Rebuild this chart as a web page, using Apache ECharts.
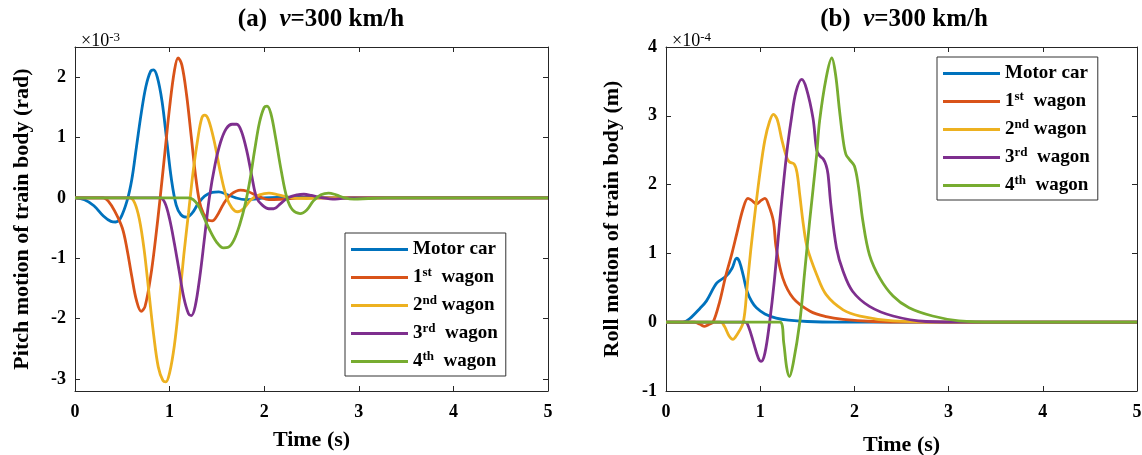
<!DOCTYPE html>
<html>
<head>
<meta charset="utf-8">
<script src="https://cdn.jsdelivr.net/npm/echarts@6/dist/echarts.min.js"></script>
<style>
html,body{margin:0;padding:0;background:#fff;}
#chart{width:1142px;height:455px;}
</style>
</head>
<body>
<div id="chart"></div>
<script>
// ---------- DATA ----------
const seriesNames = ['Motor car', '1st wagon', '2nd wagon', '3rd wagon', '4th wagon'];
const xTicks = [0, 1, 2, 3, 4, 5];
const pitchTicks = [-3, -2, -1, 0, 1, 2];
const rollTicks = [-1, 0, 1, 2, 3, 4];

// Pitch motion (x 1e-3 rad) : [time s, value]
const pitchMotor = [[0,0],[0.1,-0.03],[0.2,-0.13],[0.3,-0.3],[0.38,-0.39],[0.43,-0.4],[0.48,-0.34],[0.55,-0.05],[0.6,0.3],[0.65,0.85],[0.7,1.4],[0.75,1.85],[0.8,2.1],[0.83,2.12],[0.87,2.0],[0.92,1.6],[0.97,0.95],[1.02,0.3],[1.07,-0.12],[1.12,-0.28],[1.18,-0.32],[1.24,-0.25],[1.3,-0.1],[1.37,0.03],[1.45,0.09],[1.52,0.1],[1.6,0.06],[1.7,0],[1.8,-0.03],[1.9,-0.02],[2.0,0],[2.3,0.01],[3,0],[5,0]];
const pitch1st = [[0,0],[0.3,0],[0.35,-0.05],[0.42,-0.22],[0.5,-0.5],[0.55,-0.85],[0.6,-1.3],[0.65,-1.7],[0.7,-1.88],[0.74,-1.8],[0.8,-1.3],[0.85,-0.7],[0.9,0.0],[0.95,0.75],[1.0,1.5],[1.05,2.1],[1.09,2.32],[1.13,2.2],[1.18,1.7],[1.23,1.0],[1.28,0.3],[1.33,-0.15],[1.4,-0.36],[1.45,-0.38],[1.5,-0.3],[1.57,-0.1],[1.65,0.06],[1.75,0.13],[1.82,0.11],[1.95,0.02],[2.05,-0.03],[2.2,-0.02],[2.4,0],[5,0]];
const pitch2nd = [[0,0],[0.58,0],[0.63,-0.08],[0.68,-0.35],[0.73,-0.85],[0.78,-1.55],[0.83,-2.25],[0.88,-2.8],[0.93,-3.03],[0.96,-3.05],[1.0,-2.9],[1.05,-2.45],[1.1,-1.75],[1.15,-0.95],[1.2,-0.25],[1.25,0.45],[1.3,1.0],[1.34,1.32],[1.37,1.37],[1.41,1.3],[1.47,0.95],[1.54,0.4],[1.6,0.02],[1.66,-0.17],[1.72,-0.23],[1.78,-0.18],[1.86,-0.03],[1.95,0.05],[2.05,0.08],[2.15,0.05],[2.3,0.0],[2.45,-0.01],[2.7,0],[5,0]];
const pitch3rd = [[0,0],[0.9,0],[0.95,-0.08],[1.0,-0.35],[1.05,-0.75],[1.1,-1.2],[1.15,-1.65],[1.2,-1.92],[1.23,-1.95],[1.27,-1.8],[1.32,-1.3],[1.37,-0.65],[1.42,0.0],[1.48,0.55],[1.54,0.93],[1.6,1.15],[1.66,1.22],[1.71,1.22],[1.76,1.1],[1.82,0.75],[1.87,0.35],[1.92,0.0],[1.98,-0.12],[2.05,-0.18],[2.1,-0.18],[2.17,-0.1],[2.25,0.0],[2.35,0.05],[2.42,0.06],[2.5,0.04],[2.62,0],[2.75,-0.02],[2.9,0],[5,0]];
const pitch4th = [[0,0],[1.2,0],[1.25,-0.03],[1.3,-0.12],[1.35,-0.28],[1.42,-0.52],[1.5,-0.74],[1.57,-0.83],[1.62,-0.82],[1.68,-0.7],[1.74,-0.45],[1.8,-0.1],[1.85,0.3],[1.9,0.8],[1.95,1.25],[2.0,1.5],[2.03,1.52],[2.07,1.4],[2.12,1.0],[2.18,0.45],[2.24,0.0],[2.3,-0.2],[2.38,-0.26],[2.45,-0.2],[2.52,-0.05],[2.6,0.05],[2.68,0.08],[2.76,0.05],[2.85,0.0],[2.95,-0.02],[3.1,-0.01],[3.3,0],[5,0]];

// Roll motion (x 1e-4 m) : [time s, value]
const rollMotor = [[0,0],[0.18,0],[0.25,0.05],[0.36,0.2],[0.43,0.31],[0.54,0.57],[0.64,0.67],[0.7,0.78],[0.75,0.93],[0.78,0.88],[0.82,0.68],[0.86,0.45],[0.91,0.3],[0.96,0.21],[1.05,0.12],[1.17,0.06],[1.3,0.03],[1.5,0.01],[1.8,0],[5,0]];
const roll1st = [[0,0],[0.3,0],[0.36,-0.03],[0.41,-0.06],[0.46,-0.03],[0.5,0],[0.57,0.3],[0.63,0.65],[0.7,1.0],[0.75,1.28],[0.82,1.66],[0.87,1.8],[0.91,1.77],[0.96,1.72],[1.01,1.77],[1.05,1.8],[1.09,1.7],[1.14,1.47],[1.17,1.08],[1.24,0.64],[1.35,0.35],[1.53,0.16],[1.7,0.08],[1.88,0.04],[2.2,0.01],[2.6,0],[5,0]];
const roll2nd = [[0,0],[0.58,0],[0.62,-0.06],[0.67,-0.2],[0.71,-0.25],[0.75,-0.19],[0.82,0],[0.86,0.5],[0.9,1.05],[0.95,1.65],[1.0,2.2],[1.05,2.65],[1.1,2.92],[1.14,3.02],[1.18,2.95],[1.23,2.65],[1.28,2.4],[1.31,2.33],[1.36,2.3],[1.39,2.18],[1.42,1.85],[1.46,1.4],[1.5,1.08],[1.6,0.69],[1.7,0.4],[1.88,0.18],[2.06,0.09],[2.41,0.02],[3,0],[5,0]];
const roll3rd = [[0,0],[0.84,0],[0.88,-0.08],[0.93,-0.3],[0.98,-0.52],[1.01,-0.57],[1.05,-0.45],[1.1,0],[1.15,0.6],[1.21,1.5],[1.28,2.44],[1.33,2.95],[1.38,3.35],[1.44,3.53],[1.49,3.4],[1.56,2.97],[1.6,2.5],[1.63,2.42],[1.67,2.37],[1.7,2.28],[1.72,2.15],[1.75,1.71],[1.81,1.08],[1.88,0.74],[1.98,0.45],[2.16,0.23],[2.41,0.09],[2.76,0.01],[3.2,0],[5,0]];
const roll4th = [[0,0],[1.21,0],[1.25,-0.3],[1.28,-0.65],[1.31,-0.79],[1.35,-0.6],[1.42,0],[1.47,0.7],[1.525,1.47],[1.6,2.44],[1.63,2.92],[1.7,3.55],[1.76,3.84],[1.8,3.6],[1.84,3.1],[1.88,2.65],[1.91,2.44],[1.95,2.36],[2.0,2.27],[2.04,2.0],[2.09,1.47],[2.16,0.98],[2.27,0.64],[2.41,0.38],[2.58,0.21],[2.83,0.09],[3.11,0.02],[3.5,0],[5,0]];

// ---------- CHART ----------
const colors = ['#0072BD', '#D95319', '#EDB120', '#7E2F8E', '#77AC30'];
const FONT = '"Liberation Serif", "Times New Roman", serif';
const pitchData = [pitchMotor, pitch1st, pitch2nd, pitch3rd, pitch4th];
const rollData = [rollMotor, roll1st, roll2nd, roll3rd, roll4th];

const chart = echarts.init(document.getElementById('chart'), null, {renderer: 'canvas'});

const axisLineStyle = {color: '#262626', width: 1};
function xAxisDef(gridIndex, nameGap) {
  return {
    type: 'value', gridIndex, min: 0, max: 5,
    axisLine: {show: true, onZero: false, lineStyle: axisLineStyle},
    axisTick: {show: true, inside: true, length: 5, lineStyle: axisLineStyle, customValues: xTicks},
    axisLabel: {show: true, customValues: xTicks, color: '#000', fontFamily: FONT, fontWeight: 'bold', fontSize: 18, margin: 12},
    splitLine: {show: false},
    name: 'Time (s)', nameLocation: 'middle', nameGap: nameGap,
    nameTextStyle: {color: '#000', fontFamily: FONT, fontWeight: 'bold', fontSize: 22}
  };
}
function xAxisTop(gridIndex) {
  return {
    type: 'value', gridIndex, min: 0, max: 5, position: 'top',
    axisLine: {show: true, onZero: false, lineStyle: axisLineStyle},
    axisTick: {show: true, inside: true, length: 5, lineStyle: axisLineStyle, customValues: xTicks},
    axisLabel: {show: false}, splitLine: {show: false}
  };
}
function yAxisDef(gridIndex, min, max, ticks, name, nameGap) {
  return {
    type: 'value', gridIndex, min, max,
    axisLine: {show: true, onZero: false, lineStyle: axisLineStyle},
    axisTick: {show: true, inside: true, length: 5, lineStyle: axisLineStyle, customValues: ticks},
    axisLabel: {show: true, customValues: ticks, color: '#000', fontFamily: FONT, fontWeight: 'bold', fontSize: 18, margin: 9},
    splitLine: {show: false},
    name, nameLocation: 'middle', nameGap,
    nameTextStyle: {color: '#000', fontFamily: FONT, fontWeight: 'bold', fontSize: 22}
  };
}
function yAxisRight(gridIndex, min, max, ticks) {
  return {
    type: 'value', gridIndex, min, max, position: 'right',
    axisLine: {show: true, onZero: false, lineStyle: axisLineStyle},
    axisTick: {show: true, inside: true, length: 5, lineStyle: axisLineStyle, customValues: ticks},
    axisLabel: {show: false}, splitLine: {show: false}
  };
}

const legendLabels = {
  'Motor car': 'Motor car',
  '1st wagon': '1{s|st}  wagon',
  '2nd wagon': '2{s|nd} wagon',
  '3rd wagon': '3{s|rd}  wagon',
  '4th wagon': '4{s|th}  wagon'
};
function legendDef(left, top) {
  return {
    orient: 'vertical', left, top,
    data: seriesNames,
    icon: 'rect', itemWidth: 57, itemHeight: 3, itemGap: 5,
    padding: [5, 8, 3, 6],
    borderColor: '#333', borderWidth: 1, backgroundColor: '#fff',
    selectedMode: false,
    formatter: n => legendLabels[n],
    textStyle: {
      color: '#000', fontFamily: FONT, fontWeight: 'bold', fontSize: 19, lineHeight: 23,
      rich: {s: {fontFamily: FONT, fontWeight: 'bold', fontSize: 13, verticalAlign: 'top', lineHeight: 12}}
    }
  };
}

const series = [];
pitchData.forEach((d, i) => series.push({
  name: seriesNames[i], type: 'line', xAxisIndex: 0, yAxisIndex: 0, data: d,
  showSymbol: false, smooth: 0.35, lineStyle: {width: 2.8, color: colors[i]}, itemStyle: {color: colors[i]}, animation: false
}));
rollData.forEach((d, i) => series.push({
  name: seriesNames[i], type: 'line', xAxisIndex: 2, yAxisIndex: 2, data: d,
  showSymbol: false, smooth: 0.35, lineStyle: {width: 2.8, color: colors[i]}, itemStyle: {color: colors[i]}, animation: false
}));

const titleStyle = {color: '#000', fontFamily: FONT, fontWeight: 'bold', fontSize: 25,
  rich: {i: {fontFamily: FONT, fontStyle: 'italic', fontWeight: 'bold', fontSize: 25}}};
const multStyle = {color: '#000', fontFamily: FONT, fontWeight: 'normal', fontSize: 18, lineHeight: 20,
  rich: {s: {fontFamily: FONT, fontSize: 13, verticalAlign: 'top', lineHeight: 10}}};

const option = {
  backgroundColor: '#fff',
  animation: false,
  title: [
    {text: '(a)  {i|v}=300 km/h', left: 316, top: 2, textAlign: 'center', textStyle: titleStyle},
    {text: '(b)  {i|v}=300 km/h', left: 899, top: 2, textAlign: 'center', textStyle: titleStyle},
    {text: '×10{s|-3}', left: 76, top: 26, textStyle: multStyle},
    {text: '×10{s|-4}', left: 667, top: 26, textStyle: multStyle}
  ],
  grid: [
    {left: 75, top: 47, width: 473, height: 344, outerBoundsMode: 'none', containLabel: false},
    {left: 666, top: 47, width: 471, height: 344, outerBoundsMode: 'none', containLabel: false}
  ],
  xAxis: [xAxisDef(0, 38), xAxisTop(0), xAxisDef(1, 43), xAxisTop(1)],
  yAxis: [
    yAxisDef(0, -3.2, 2.5, pitchTicks, 'Pitch motion of train body (rad)', 42),
    yAxisRight(0, -3.2, 2.5, pitchTicks),
    yAxisDef(1, -1, 4, rollTicks, 'Roll motion of train body (m)', 43),
    yAxisRight(1, -1, 4, rollTicks)
  ],
  legend: [legendDef(345, 233), legendDef(937, 57)],
  series
};
chart.setOption(option);
</script>
</body>
</html>
